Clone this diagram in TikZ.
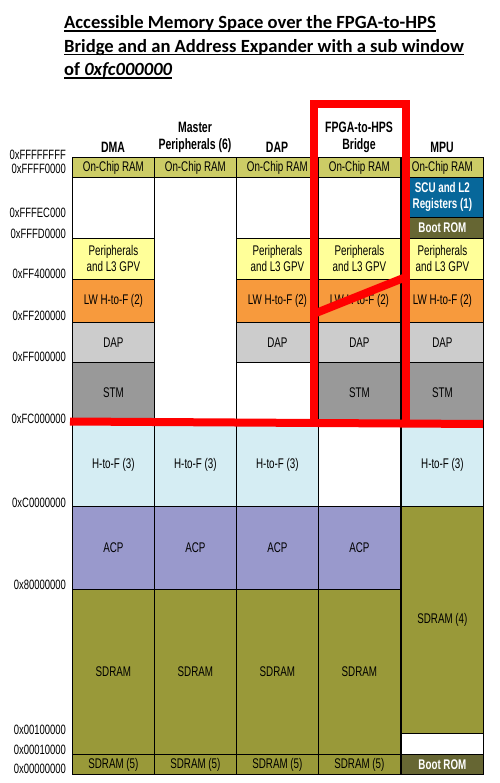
\documentclass[tikz,border=0pt]{standalone}
\usepackage{fontspec}
\newfontfamily\titlefont{Carlito}
\newfontfamily\cond[FakeStretch=0.7]{Liberation Sans}
\definecolor{ocr}{HTML}{CCCC66}
\definecolor{peri}{HTML}{FFFF99}
\definecolor{lw}{HTML}{F79A3D}
\definecolor{dapc}{HTML}{CCCCCC}
\definecolor{stm}{HTML}{999999}
\definecolor{htof}{HTML}{D5EDF3}
\definecolor{acp}{HTML}{9999CC}
\definecolor{sdram}{HTML}{999939}
\definecolor{scu}{HTML}{07679A}
\definecolor{brom}{HTML}{666633}
\definecolor{redl}{HTML}{FF0000}
\newcommand\mcell[6]{%
  \pgfmathsetmacro\mch{#4-#3}%
  \node[cellbox,#5,minimum height=\mch pt,anchor=north west] (#1) at (#2,#3) {#6};}
\newcommand\ulthick[1]{{\setbox0\hbox{#1}\rlap{\rule[-2.6pt]{\wd0}{1.3pt}}\box0}}
\begin{document}
\begin{tikzpicture}[x=1pt,y=-1pt,
  cellbox/.style={draw=black,line width=0.8pt,minimum width=82pt,inner sep=0pt,
    align=center,font=\cond\fontsize{14}{16}\selectfont,text=black},
  white/.style={fill=white},
  ocrs/.style={fill=ocr},
  peris/.style={fill=peri},
  lws/.style={fill=lw},
  daps/.style={fill=dapc},
  stms/.style={fill=stm},
  htofs/.style={fill=htof},
  acps/.style={fill=acp},
  sdrams/.style={fill=sdram},
  scus/.style={fill=scu,text=white,font=\cond\bfseries\fontsize{14}{16}\selectfont},
  broms/.style={fill=brom,text=white,font=\cond\bfseries\fontsize{14}{16}\selectfont},
  hdr/.style={font=\cond\bfseries\fontsize{15}{17}\selectfont,align=center,anchor=south,inner sep=0pt},
  addr/.style={font=\cond\fontsize{13.5}{15}\selectfont,anchor=east,inner sep=0pt},
  ttl/.style={font=\titlefont\bfseries\fontsize{18.6}{20}\selectfont,anchor=base west,inner sep=0pt},
  redline/.style={draw=redl,line width=8pt}
]
\useasboundingbox (0,0) rectangle (499,783);
\fill[white] (0,0) rectangle (499,783);

% title
\node[ttl] (t1) at (64,29) {\ulthick{Accessible Memory Space over the FPGA-to-HPS}};
\node[ttl] (t2) at (64,52.5) {\ulthick{Bridge and an Address Expander with a sub window}};
\node[ttl] (t3) at (64,76) {\ulthick{of \textit{0xfc000000}}};

% headers
\node[hdr] (hdma) at (113,153) {DMA};
\node[hdr] (hmp) at (195,153) {Master\\Peripherals (6)};
\node[hdr] (hdap) at (277,153) {DAP};
\node[hdr] (hfpga) at (359,153) {FPGA-to-HPS\\Bridge};
\node[hdr] (hmpu) at (442,153) {MPU};

% DMA column
\mcell{a1}{72}{157}{177}{ocrs}{On-Chip RAM}
\mcell{a2}{72}{177}{238}{white}{}
\mcell{a3}{72}{238}{279}{peris}{Peripherals\\and L3 GPV}
\mcell{a4}{72}{279}{322}{lws}{LW H-to-F (2)}
\mcell{a5}{72}{322}{362}{daps}{DAP}
\mcell{a6}{72}{362}{422}{stms}{STM}
\mcell{a7}{72}{422}{506}{htofs}{H-to-F (3)}
\mcell{a8}{72}{506}{589}{acps}{ACP}
\mcell{a9}{72}{589}{754}{sdrams}{SDRAM}
\mcell{a10}{72}{754}{774}{sdrams}{SDRAM (5)}

% Master peripherals column
\mcell{b1}{154}{157}{177}{ocrs}{On-Chip RAM}
\mcell{b2}{154}{177}{422}{white}{}
\mcell{b7}{154}{422}{506}{htofs}{H-to-F (3)}
\mcell{b8}{154}{506}{589}{acps}{ACP}
\mcell{b9}{154}{589}{754}{sdrams}{SDRAM}
\mcell{b10}{154}{754}{774}{sdrams}{SDRAM (5)}

% DAP column
\mcell{c1}{236}{157}{177}{ocrs}{On-Chip RAM}
\mcell{c2}{236}{177}{238}{white}{}
\mcell{c3}{236}{238}{279}{peris}{Peripherals\\and L3 GPV}
\mcell{c4}{236}{279}{322}{lws}{LW H-to-F (2)}
\mcell{c5}{236}{322}{362}{daps}{DAP}
\mcell{c6}{236}{362}{422}{white}{}
\mcell{c7}{236}{422}{506}{htofs}{H-to-F (3)}
\mcell{c8}{236}{506}{589}{acps}{ACP}
\mcell{c9}{236}{589}{754}{sdrams}{SDRAM}
\mcell{c10}{236}{754}{774}{sdrams}{SDRAM (5)}

% FPGA-to-HPS column
\mcell{d1}{318}{157}{177}{ocrs}{On-Chip RAM}
\mcell{d2}{318}{177}{238}{white}{}
\mcell{d3}{318}{238}{279}{peris}{Peripherals\\and L3 GPV}
\mcell{d4}{318}{279}{322}{lws}{LW H-to-F (2)}
\mcell{d5}{318}{322}{362}{daps}{DAP}
\mcell{d6}{318}{362}{422}{stms}{STM}
\mcell{d7}{318}{422}{506}{white}{}
\mcell{d8}{318}{506}{589}{acps}{ACP}
\mcell{d9}{318}{589}{754}{sdrams}{SDRAM}
\mcell{d10}{318}{754}{774}{sdrams}{SDRAM (5)}

% MPU column
\mcell{e1}{401}{157}{177}{ocrs}{On-Chip RAM}
\mcell{e2}{401}{177}{217}{scus}{SCU and L2\\Registers (1)}
\mcell{e3}{401}{217}{238}{broms}{Boot ROM}
\mcell{e4}{401}{238}{279}{peris}{Peripherals\\and L3 GPV}
\mcell{e5}{401}{279}{322}{lws}{LW H-to-F (2)}
\mcell{e6}{401}{322}{362}{daps}{DAP}
\mcell{e7}{401}{362}{422}{stms}{STM}
\mcell{e8}{401}{422}{506}{htofs}{H-to-F (3)}
\mcell{e9}{401}{506}{733}{sdrams}{SDRAM (4)}
\mcell{e10}{401}{733}{754}{white}{}
\mcell{e11}{401}{754}{774}{broms}{Boot ROM}

% address labels
\node[addr] (l1) at (66,155) {0xFFFFFFFF};
\node[addr] (l2) at (66,169) {0xFFFF0000};
\node[addr] (l3) at (66,213) {0xFFFEC000};
\node[addr] (l4) at (66,234) {0xFFFD0000};
\node[addr] (l5) at (66,274) {0xFF400000};
\node[addr] (l6) at (66,316) {0xFF200000};
\node[addr] (l7) at (66,357) {0xFF000000};
\node[addr] (l8) at (66,419) {0xFC000000};
\node[addr] (l9) at (66,503) {0xC0000000};
\node[addr] (l10) at (66,585) {0x80000000};
\node[addr] (l11) at (66,730) {0x00100000};
\node[addr] (l12) at (66,750) {0x00010000};
\node[addr] (l13) at (66,769) {0x00000000};

% red annotation
\coordinate (rbl) at (314,423);
\coordinate (rtl) at (314,104.5);
\coordinate (rtr) at (405.5,104.5);
\coordinate (rbr) at (405.5,423);
\coordinate (hl) at (70,421.5);
\coordinate (hr) at (483,424);
\coordinate (dl) at (316,313);
\coordinate (dr) at (406,277);
\draw[redline,line join=miter] (rbl) -- (rtl) -- (rtr) -- (rbr);
\draw[redline] (hl) -- (hr);
\draw[redline] (dl) -- (dr);
\end{tikzpicture}
\end{document}
